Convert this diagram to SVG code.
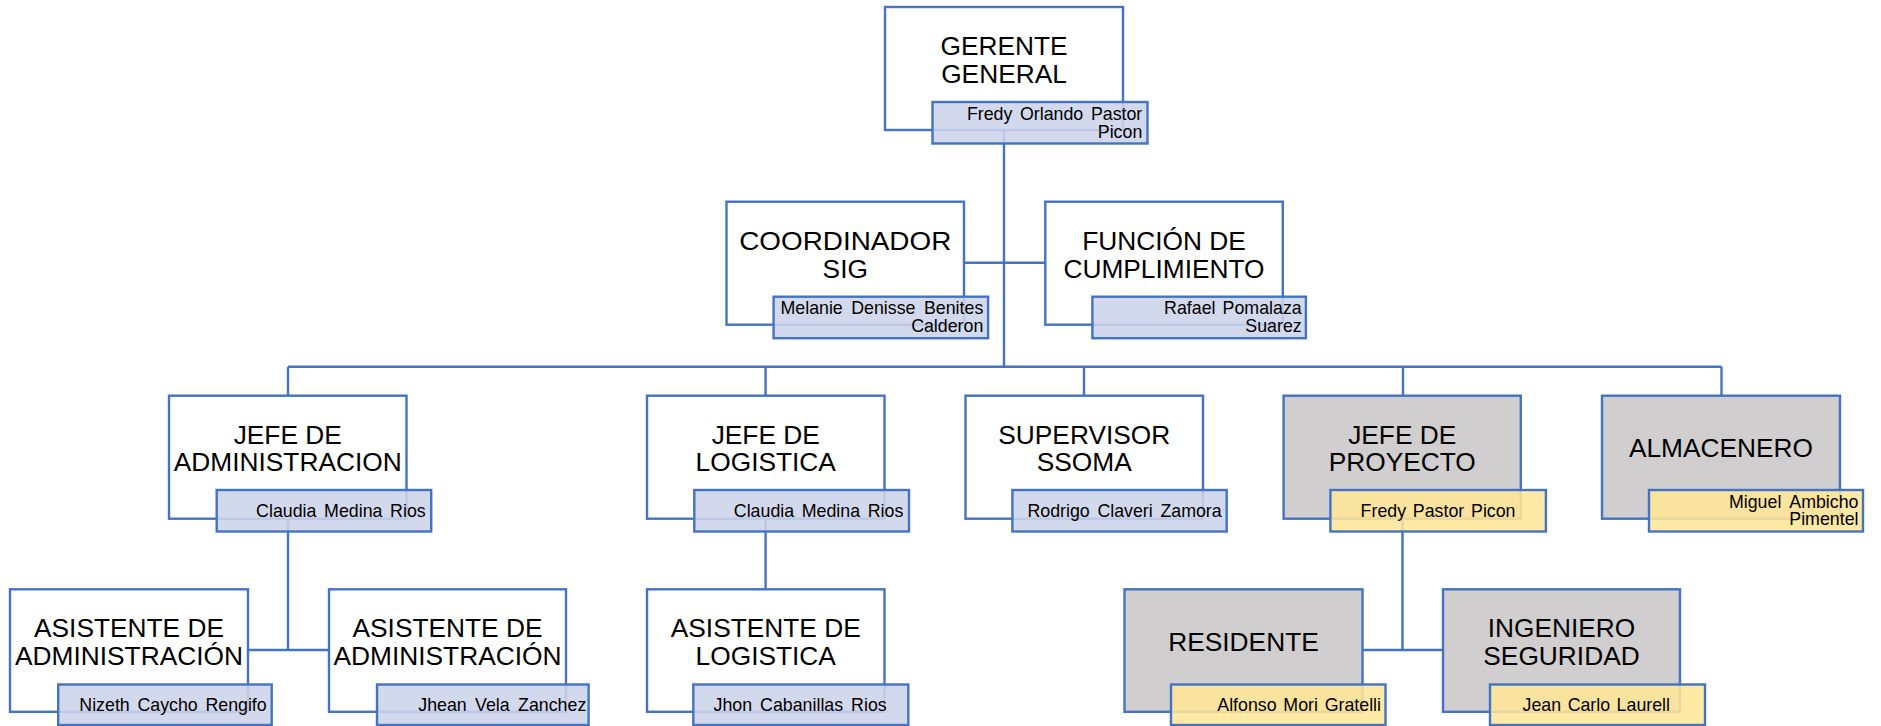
<svg xmlns="http://www.w3.org/2000/svg" width="1881" height="726" viewBox="0 0 1881 726">
<style>
.box{fill:#FFFFFF;stroke:#4472C4;stroke-width:2.4}
.grey{fill:#D0CECE}
.nm{fill:#CDD4EA;fill-opacity:0.88;stroke:#4472C4;stroke-width:2.4}
.yel{fill:#FFE699}
.t{font-family:"Liberation Sans",Arial,sans-serif;font-size:26.3px;fill:#000;text-anchor:middle}
.n{font-family:"Liberation Sans",Arial,sans-serif;font-size:17.8px;fill:#000;text-anchor:end}
.c{fill:none;stroke:#4472C4;stroke-width:2.4}
</style>
<rect x="0" y="0" width="1881" height="726" fill="#FFFFFF"/>
<g id="connectors">
<path class="c" d="M1004,130 V366.7"/>
<path class="c" d="M964,262.7 H1045.3"/>
<path class="c" d="M288,366.7 H1721.5"/>
<path class="c" d="M288,366.7 V395.7 M765.6,366.7 V395.7 M1084,366.7 V395.7 M1403,366.7 V395.7 M1721.5,366.7 V395.7"/>
<path class="c" d="M288,518.7 V650 M247.5,650 H329"/>
<path class="c" d="M765.6,518.7 V589.3"/>
<path class="c" d="M1402.5,518.7 V650 M1362,650 H1443"/>
</g>
<g id="gerente">
<rect class="box" x="885" y="7" width="238" height="123"/>
<text class="t" x="1004" y="55">GERENTE</text>
<text class="t" x="1004" y="82.5">GENERAL</text>
<rect class="nm" x="932.5" y="102" width="215" height="41.5"/>
<text class="n" x="1142.3" y="120" word-spacing="2.7">Fredy Orlando Pastor</text>
<text class="n" x="1142.3" y="137.6">Picon</text>
</g>
<g id="coordinador">
<rect class="box" x="726.5" y="201.7" width="237.5" height="123"/>
<text class="t" x="845.25" y="250" textLength="212" lengthAdjust="spacingAndGlyphs">COORDINADOR</text>
<text class="t" x="845.25" y="277.5">SIG</text>
<rect class="nm" x="773.6" y="296.7" width="214.5" height="41.5"/>
<text class="n" x="983.3" y="314.4" word-spacing="3.55">Melanie Denisse Benites</text>
<text class="n" x="983.3" y="332">Calderon</text>
</g>
<g id="funcion">
<rect class="box" x="1045.3" y="201.7" width="237.5" height="123"/>
<text class="t" x="1164" y="250">FUNCIÓN DE</text>
<text class="t" x="1164" y="277.5">CUMPLIMIENTO</text>
<rect class="nm" x="1092.4" y="296.7" width="213.5" height="41.5"/>
<text class="n" x="1301.7" y="314.4" word-spacing="2.2">Rafael Pomalaza</text>
<text class="n" x="1301.7" y="332">Suarez</text>
</g>
<g id="jefe-administracion">
<rect class="box" x="169" y="395.7" width="237.5" height="123"/>
<text class="t" x="287.75" y="443.7">JEFE DE</text>
<text class="t" x="287.75" y="471.2">ADMINISTRACION</text>
<rect class="nm" x="216.7" y="490" width="214.5" height="41.5"/>
<text class="n" x="425.7" y="516.6" word-spacing="2.75">Claudia Medina Rios</text>
</g>
<g id="jefe-logistica">
<rect class="box" x="647" y="395.7" width="237.5" height="123"/>
<text class="t" x="765.75" y="443.7">JEFE DE</text>
<text class="t" x="765.75" y="471.2">LOGISTICA</text>
<rect class="nm" x="694.3" y="490" width="214.7" height="41.5"/>
<text class="n" x="903.3" y="516.6" word-spacing="2.7">Claudia Medina Rios</text>
</g>
<g id="supervisor-ssoma">
<rect class="box" x="965.5" y="395.7" width="237.5" height="123"/>
<text class="t" x="1084.25" y="443.7">SUPERVISOR</text>
<text class="t" x="1084.25" y="471.2">SSOMA</text>
<rect class="nm" x="1012.4" y="490" width="214.3" height="41.5"/>
<text class="n" x="1221.7" y="516.6" word-spacing="2.75">Rodrigo Claveri Zamora</text>
</g>
<g id="jefe-proyecto">
<rect class="box grey" x="1283.6" y="395.7" width="237.2" height="123"/>
<text class="t" x="1402.2" y="443.7">JEFE DE</text>
<text class="t" x="1402.2" y="471.2">PROYECTO</text>
<rect class="nm yel" x="1330.4" y="490" width="215.5" height="41.5"/>
<text class="n" x="1515.5" y="516.6" word-spacing="1.85">Fredy Pastor Picon</text>
</g>
<g id="almacenero">
<rect class="box grey" x="1602" y="395.7" width="238" height="123"/>
<text class="t" x="1721" y="457.2">ALMACENERO</text>
<rect class="nm yel" x="1649" y="490" width="214" height="41.5"/>
<text class="n" x="1858.5" y="507.7" word-spacing="4">Miguel Ambicho</text>
<text class="n" x="1858.5" y="525.3">Pimentel</text>
</g>
<g id="asistente-administracion-1">
<rect class="box" x="10" y="589.3" width="238" height="122.5"/>
<text class="t" x="129" y="637.3">ASISTENTE DE</text>
<text class="t" x="129" y="664.8">ADMINISTRACIÓN</text>
<rect class="nm" x="58.2" y="684.5" width="213.5" height="40.5"/>
<text class="n" x="266.7" y="710.5" word-spacing="2.75">Nizeth Caycho Rengifo</text>
</g>
<g id="asistente-administracion-2">
<rect class="box" x="329" y="589.3" width="237" height="122.5"/>
<text class="t" x="447.5" y="637.3">ASISTENTE DE</text>
<text class="t" x="447.5" y="664.8">ADMINISTRACIÓN</text>
<rect class="nm" x="377" y="684.5" width="211.6" height="40.5"/>
<text class="n" x="586.3" y="710.5" word-spacing="3.45">Jhean Vela Zanchez</text>
</g>
<g id="asistente-logistica">
<rect class="box" x="647" y="589.3" width="237.5" height="122.5"/>
<text class="t" x="765.75" y="637.3">ASISTENTE DE</text>
<text class="t" x="765.75" y="664.8">LOGISTICA</text>
<rect class="nm" x="693.3" y="684.5" width="215" height="40.5"/>
<text class="n" x="886.7" y="710.5" word-spacing="3.05">Jhon Cabanillas Rios</text>
</g>
<g id="residente">
<rect class="box grey" x="1124.5" y="589.3" width="238" height="122.5"/>
<text class="t" x="1243.5" y="650.8">RESIDENTE</text>
<rect class="nm yel" x="1171" y="684.5" width="214.5" height="40.5"/>
<text class="n" x="1381" y="710.5" word-spacing="1.8">Alfonso Mori Gratelli</text>
</g>
<g id="ingeniero-seguridad">
<rect class="box grey" x="1443" y="589.3" width="237" height="122.5"/>
<text class="t" x="1561.5" y="637.3">INGENIERO</text>
<text class="t" x="1561.5" y="664.8">SEGURIDAD</text>
<rect class="nm yel" x="1490" y="684.5" width="215" height="40.5"/>
<text class="n" x="1670" y="710.5" word-spacing="1.55">Jean Carlo Laurell</text>
</g>
</svg>
